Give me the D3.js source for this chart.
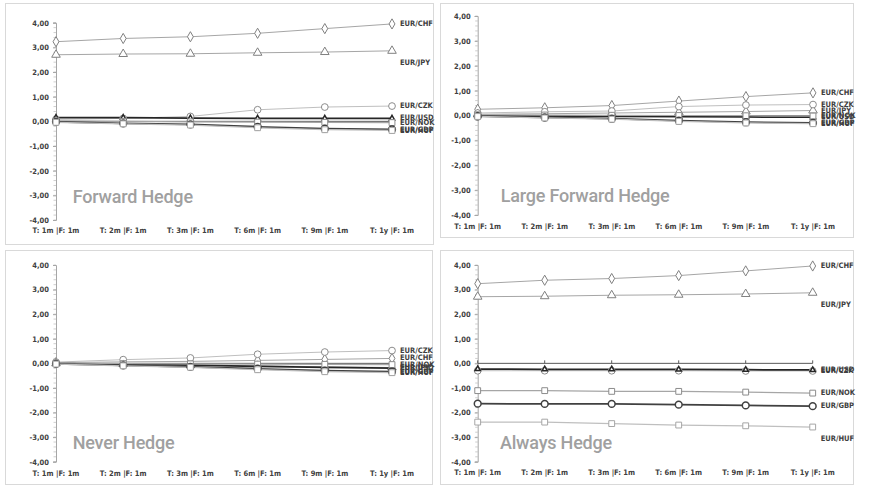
<!DOCTYPE html>
<html><head><meta charset="utf-8">
<script src="https://cdn.jsdelivr.net/npm/d3@7"></script>
<style>
html,body{margin:0;padding:0;background:#fff;}
svg{display:block;}
.tick-lab{font-family:"DejaVu Sans Condensed","Liberation Sans Narrow",sans-serif;font-weight:bold;font-size:7.5px;fill:#404040;}
.ser-lab{font-family:"DejaVu Sans Condensed","Liberation Sans Narrow",sans-serif;font-weight:bold;font-size:7.5px;fill:#404040;}
.title{font-family:Roboto,"Open Sans",sans-serif;font-weight:500;font-size:18px;fill:#a0a0a0;letter-spacing:-0.2px;}
</style></head>
<body>
<div id="chart"></div>
<script>
// ---------------- DATA ----------------
const categories = ["T: 1m |F: 1m","T: 2m |F: 1m","T: 3m |F: 1m","T: 6m |F: 1m","T: 9m |F: 1m","T: 1y |F: 1m"];
const yTickValues = [4,3,2,1,0,-1,-2,-3,-4];
const seriesNames = ["EUR/CHF","EUR/JPY","EUR/CZK","EUR/USD","EUR/NOK","EUR/GBP","EUR/HUF"];
const panelTitles = ["Forward Hedge","Large Forward Hedge","Never Hedge","Always Hedge"];

// values per panel, rows in seriesNames order
const forwardHedge = [
  [3.23, 3.36, 3.43, 3.57, 3.76, 3.95],
  [2.70, 2.73, 2.74, 2.78, 2.81, 2.86],
  [0.08, 0.12, 0.20, 0.47, 0.58, 0.62],
  [0.15, 0.15, 0.13, 0.12, 0.12, 0.12],
  [0.02, 0.00, -0.02, -0.03, -0.04, -0.05],
  [-0.02, -0.08, -0.12, -0.22, -0.30, -0.33],
  [-0.04, -0.10, -0.15, -0.26, -0.34, -0.37]
];
const largeForwardHedge = [
  [0.25, 0.31, 0.40, 0.58, 0.76, 0.91],
  [0.05, 0.07, 0.10, 0.13, 0.16, 0.20],
  [0.10, 0.15, 0.18, 0.36, 0.42, 0.44],
  [-0.02, -0.03, -0.04, -0.05, -0.06, -0.07],
  [0.03, 0.02, 0.01, 0.00, -0.01, -0.02],
  [-0.03, -0.08, -0.13, -0.21, -0.27, -0.30],
  [-0.04, -0.10, -0.15, -0.24, -0.30, -0.33]
];
const neverHedge = [
  [0.03, 0.06, 0.08, 0.12, 0.16, 0.20],
  [0.00, -0.03, -0.06, -0.10, -0.14, -0.17],
  [0.05, 0.15, 0.22, 0.37, 0.46, 0.52],
  [-0.01, -0.04, -0.07, -0.12, -0.16, -0.19],
  [0.00, -0.01, -0.02, -0.03, -0.04, -0.05],
  [-0.02, -0.08, -0.14, -0.22, -0.30, -0.34],
  [-0.03, -0.10, -0.16, -0.26, -0.34, -0.38]
];
const alwaysHedge = [
  [3.24, 3.38, 3.45, 3.57, 3.76, 3.96],
  [2.71, 2.73, 2.77, 2.79, 2.82, 2.87],
  [-0.30, -0.30, -0.30, -0.30, -0.31, -0.31],
  [-0.23, -0.24, -0.24, -0.25, -0.26, -0.27],
  [-1.11, -1.11, -1.14, -1.14, -1.17, -1.21],
  [-1.64, -1.65, -1.65, -1.68, -1.71, -1.74],
  [-2.39, -2.39, -2.45, -2.51, -2.54, -2.59]
];
const panelData = [forwardHedge, largeForwardHedge, neverHedge, alwaysHedge];

// ---------------- STYLE / LAYOUT ----------------
const seriesStyle = {
  "EUR/CHF": {line:"#a6a6a6", lw:1,   marker:"diamond",  mstroke:"#808080", size:30, mw:1},
  "EUR/JPY": {line:"#a6a6a6", lw:1,   marker:"triangle", mstroke:"#808080", size:32, mw:1},
  "EUR/CZK": {line:"#bfbfbf", lw:1,   marker:"circle",   mstroke:"#8c8c8c", size:36, mw:1},
  "EUR/USD": {line:"#262626", lw:1.75,marker:"triangle", mstroke:"#262626", size:12, mw:1.5},
  "EUR/NOK": {line:"#a6a6a6", lw:1.25,marker:"square",   mstroke:"#8c8c8c", size:34, mw:1},
  "EUR/GBP": {line:"#404040", lw:1.75,marker:"circle",   mstroke:"#404040", size:36, mw:1.5},
  "EUR/HUF": {line:"#bfbfbf", lw:1.25,marker:"square",   mstroke:"#a6a6a6", size:34, mw:1}
};
const symbolMap = {diamond:d3.symbolDiamond, triangle:d3.symbolTriangle, circle:d3.symbolCircle, square:d3.symbolSquare};

const panels = [
  {box:[5,3,428,241],  x0:56,    x1:392,   yTop:22.7, yBot:220,   xlabY:231,   tx:72.7,  ty:203, dy:{"EUR/JPY":12}},
  {box:[440,3,413,234],x0:477.7, x1:813,   yTop:16,   yBot:215,   xlabY:227,   tx:500.7, ty:202, dy:{}},
  {box:[5,250,427,234],x0:56,    x1:392,   yTop:265,  yBot:461.7, xlabY:474.3, tx:72.7,  ty:449, dy:{}},
  {box:[440,250,413,234],x0:477.7,x1:812.7,yTop:265,  yBot:461.7, xlabY:472.7, tx:500,   ty:449, dy:{"EUR/JPY":12,"EUR/HUF":12}}
];

const fmt = v => d3.format(".2f")(v).replace(".", ",").replace("−","-");

const svg = d3.select("#chart").append("svg").attr("width",871).attr("height",491);

panels.forEach((p, pi) => {
  const g = svg.append("g");
  g.append("rect").attr("x",p.box[0]+0.5).attr("y",p.box[1]+0.5).attr("width",p.box[2]).attr("height",p.box[3])
    .attr("fill","#fff").attr("stroke","#d9d9d9").attr("stroke-width",1);

  const x = d3.scalePoint().domain(categories).range([p.x0, p.x1]);
  const y = d3.scaleLinear().domain([-4,4]).range([p.yBot, p.yTop]);

  // y axis minor ticks
  const minor = d3.range(-4, 4.0001, 0.2).map(v => +v.toFixed(2));
  g.append("g").selectAll("line").data(minor).join("line")
    .attr("x1",p.x0-2.5).attr("x2",p.x0).attr("y1",d=>y(d)).attr("y2",d=>y(d))
    .attr("stroke","#bfbfbf").attr("stroke-width",0.75);
  // y axis
  const yAxis = d3.axisLeft(y).tickValues(yTickValues).tickFormat(fmt).tickSize(3).tickPadding(4);
  const ya = g.append("g").attr("transform",`translate(${p.x0},0)`).call(yAxis);
  ya.select(".domain").attr("stroke","#a6a6a6");
  ya.selectAll(".tick line").attr("stroke","#a6a6a6");
  ya.selectAll(".tick text").attr("class","tick-lab").attr("font-family",null).attr("font-size",null).attr("fill",null);

  // x axis line at zero
  const xa = g.append("g").attr("transform",`translate(0,${y(0)})`);
  xa.append("line").attr("x1",p.x0).attr("x2",p.x1).attr("stroke","#595959").attr("stroke-width",1);
  xa.selectAll("line.tk").data(categories).join("line").attr("class","tk")
    .attr("x1",d=>x(d)).attr("x2",d=>x(d)).attr("y1",0).attr("y2",-3).attr("stroke","#595959");
  // category labels at bottom
  g.append("g").selectAll("text").data(categories).join("text")
    .attr("class","tick-lab").attr("x",d=>x(d)).attr("y",p.xlabY).attr("text-anchor","middle")
    .attr("dominant-baseline","middle").text(d=>d);

  // title
  g.append("text").attr("class","title").attr("x",p.tx).attr("y",p.ty).text(panelTitles[pi]);

  const data = panelData[pi];
  const line = d3.line().x((d,i)=>x(categories[i])).y(d=>y(d));
  // lines
  seriesNames.forEach((s, si) => {
    const st = seriesStyle[s];
    g.append("path").datum(data[si]).attr("d",line).attr("fill","none")
      .attr("stroke",st.line).attr("stroke-width",st.lw);
  });
  // markers + labels
  seriesNames.forEach((s, si) => {
    const st = seriesStyle[s];
    const sym = d3.symbol().type(symbolMap[st.marker]).size(st.size);
    g.append("g").selectAll("path").data(data[si]).join("path")
      .attr("d",sym).attr("transform",(d,i)=>`translate(${x(categories[i])},${y(d)})`)
      .attr("fill","#fff").attr("stroke",st.mstroke).attr("stroke-width",st.mw);
    const last = data[si][data[si].length-1];
    g.append("text").attr("class","ser-lab").attr("x",p.x1+8).attr("y",y(last)+(p.dy[s]||0))
      .attr("dominant-baseline","middle").text(s);
  });
});
</script>
</body></html>
